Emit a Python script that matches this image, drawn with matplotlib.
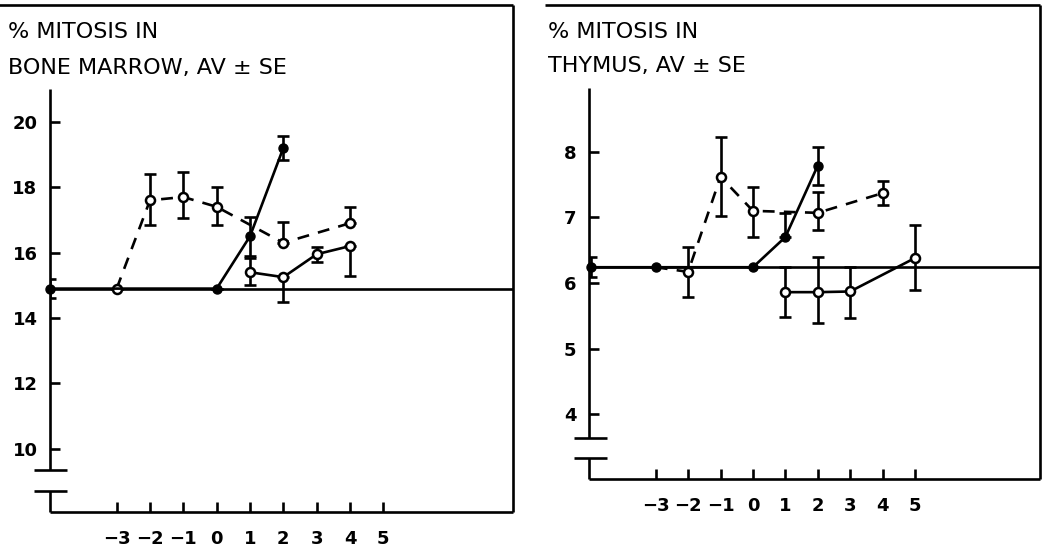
import matplotlib
matplotlib.use("Agg")
import matplotlib.pyplot as plt
import numpy as np

plt.rcParams['font.family'] = ['DejaVu Sans']

# ---------------- data ----------------
x_ticks = [-3, -2, -1, 0, 1, 2, 3, 4, 5]
x_ticklabels = ["\u22123", "\u22122", "\u22121", "0", "1", "2", "3", "4", "5"]

# Bone marrow
bm_base = 14.9
bm_yticks = [10, 12, 14, 16, 18, 20]
bm_dash_x = [-3, -2, -1, 0, 2, 4]
bm_dash_y = [14.9, 17.6, 17.7, 17.4, 16.3, 16.9]
bm_dash_lo = [0, 0.75, 0.65, 0.55, 0, 0]
bm_dash_hi = [0, 0.8, 0.75, 0.6, 0.65, 0.5]
bm_closed_x = [-5, 0, 1, 2]
bm_closed_y = [14.9, 14.9, 16.5, 19.2]
bm_closed_lo = [0.3, 0, 0.6, 0.37]
bm_closed_hi = [0.3, 0, 0.6, 0.37]
bm_open_x = [1, 2, 3, 4]
bm_open_y = [15.4, 15.25, 15.95, 16.2]
bm_open_lo = [0.4, 0.75, 0.25, 0.9]
bm_open_hi = [0.45, 0, 0.22, 0]

# Thymus
th_base = 6.24
th_yticks = [4, 5, 6, 7, 8]
th_dash_x = [-3, -2, -1, 0, 2, 4]
th_dash_y = [6.24, 6.17, 7.62, 7.1, 7.07, 7.37]
th_dash_lo = [0, 0.38, 0.6, 0.4, 0.26, 0.18]
th_dash_hi = [0, 0.38, 0.6, 0.37, 0.32, 0.19]
th_dash_filled = [True, False, False, False, False, False]
th_closed_x = [-5, -3, 0, 1, 2]
th_closed_y = [6.24, 6.24, 6.24, 6.7, 7.79]
th_closed_lo = [0.15, 0, 0, 0.0, 0.3]
th_closed_hi = [0.15, 0, 0, 0.37, 0.28]
th_open_x = [1, 2, 3, 5]
th_open_y = [5.86, 5.86, 5.87, 6.38]
th_open_lo = [0.38, 0.47, 0.4, 0.48]
th_open_hi = [0.38, 0.54, 0.37, 0.51]

W, H = 1055, 550
fig = plt.figure(figsize=(W / 100, H / 100), dpi=100)

LW = 1.9
MS = 6.5
dash = (0, (4.5, 3.5))
TFS = 16


def px_axes(l, r, t, b):
    return fig.add_axes([l / W, 1 - b / H, (r - l) / W, (b - t) / H])


def frame(ax, xlim, ylim, spine_top, brk_hi, brk_lo, brk_x, top_left):
    ax.set_xlim(*xlim)
    ax.set_ylim(*ylim)
    for s in ax.spines.values():
        s.set_visible(False)
    kw = dict(color='black', lw=LW, clip_on=False, solid_capstyle='butt')
    x0, x1 = xlim
    y0, y1 = ylim
    ax.plot([x0, x0], [brk_hi, spine_top], **kw)
    ax.plot([x0, x0], [y0, brk_lo], **kw)
    ax.plot(brk_x, [brk_hi, brk_hi], **kw)
    ax.plot(brk_x, [brk_lo, brk_lo], **kw)
    ax.plot([x0, x1], [y0, y0], **kw)
    ax.plot([x1, x1], [y0, y1], **kw)
    ax.plot([top_left, x1], [y1, y1], **kw)


def style_ticks(ax, yticks):
    ax.set_xticks(x_ticks)
    ax.set_xticklabels(x_ticklabels)
    ax.set_yticks(yticks)
    ax.tick_params(axis='x', direction='in', length=7, width=LW, pad=13,
                   labelsize=13, top=False)
    ax.tick_params(axis='y', direction='in', length=7, width=LW, pad=9,
                   labelsize=13, right=False)
    for lab in ax.get_xticklabels() + ax.get_yticklabels():
        lab.set_fontweight('bold')


def errs(ax, x, y, lo, hi):
    ax.errorbar(x, y, yerr=[lo, hi], fmt='none', ecolor='black',
                elinewidth=LW, capsize=4, capthick=LW, zorder=3)


# ---------------- left panel ----------------
ax1 = px_axes(50, 513, 5, 512)
frame(ax1, (-5.0, 8.89), (8.07, 23.57), 21.0, 9.35, 8.71, [-5.47, -4.5], -6.52)
style_ticks(ax1, bm_yticks)
ax1.axhline(bm_base, color='black', lw=LW, zorder=2)
errs(ax1, bm_dash_x, bm_dash_y, bm_dash_lo, bm_dash_hi)
errs(ax1, bm_closed_x, bm_closed_y, bm_closed_lo, bm_closed_hi)
errs(ax1, bm_open_x, bm_open_y, bm_open_lo, bm_open_hi)
ax1.plot(bm_dash_x, bm_dash_y, color='black', lw=LW, linestyle=dash,
         marker='o', ms=MS, mfc='white', mec='black', mew=1.8, zorder=4)
ax1.plot(bm_closed_x, bm_closed_y, color='black', lw=LW,
         marker='o', ms=MS, mfc='black', mec='black', zorder=5, clip_on=False)
ax1.plot(bm_open_x, bm_open_y, color='black', lw=LW,
         marker='o', ms=MS, mfc='white', mec='black', mew=1.8, zorder=4)

fig.text(8 / W, 1 - 32 / H, "% MITOSIS IN", fontsize=TFS,
         va='center', ha='left')
fig.text(8 / W, 1 - 68 / H, "BONE MARROW, AV \u00b1 SE", fontsize=TFS,
         va='center', ha='left')

# ---------------- right panel ----------------
ax2 = px_axes(589, 1040, 5, 479)
frame(ax2, (-5.06, 8.86), (3.01, 10.24), 8.98, 3.64, 3.33, [-5.52, -4.5], -6.42)
style_ticks(ax2, th_yticks)
ax2.axhline(th_base, color='black', lw=LW, zorder=2)
errs(ax2, th_dash_x, th_dash_y, th_dash_lo, th_dash_hi)
errs(ax2, th_closed_x, th_closed_y, th_closed_lo, th_closed_hi)
errs(ax2, th_open_x, th_open_y, th_open_lo, th_open_hi)
ax2.plot(th_dash_x, th_dash_y, color='black', lw=LW, linestyle=dash, zorder=4)
dx = np.array(th_dash_x)
dy = np.array(th_dash_y)
filled = np.array(th_dash_filled)
ax2.plot(dx[~filled], dy[~filled], linestyle='none', marker='o', ms=MS,
         mfc='white', mec='black', mew=1.8, zorder=5)
ax2.plot(th_closed_x, th_closed_y, color='black', lw=LW,
         marker='o', ms=MS, mfc='black', mec='black', zorder=5, clip_on=False)
ax2.plot(th_open_x, th_open_y, color='black', lw=LW,
         marker='o', ms=MS, mfc='white', mec='black', mew=1.8, zorder=4)

fig.text(548 / W, 1 - 32 / H, "% MITOSIS IN", fontsize=TFS,
         va='center', ha='left')
fig.text(548 / W, 1 - 66 / H, "THYMUS, AV \u00b1 SE", fontsize=TFS,
         va='center', ha='left')

fig.savefig("out.png", dpi=100)
